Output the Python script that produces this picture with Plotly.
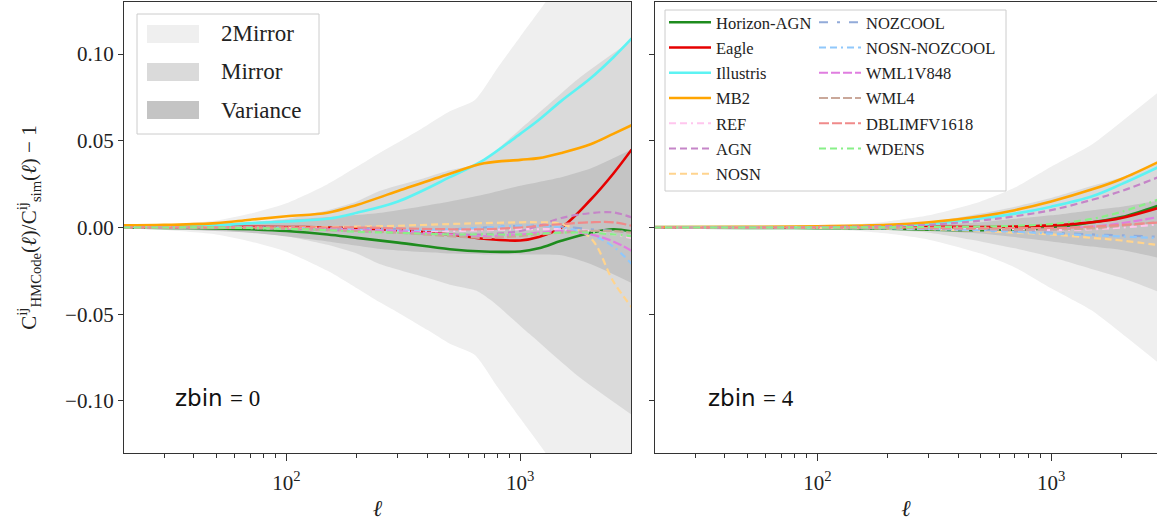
import plotly.graph_objects as go

# ---------------- data ----------------
# zbin = 0 panel
ell_band_0 = [20, 30, 50, 70, 100, 150, 200, 250, 300, 400, 500, 640, 800, 1000, 1300, 2000, 3000]
mirror2_hw_0 = [0.0005, 0.0015, 0.004, 0.008, 0.014, 0.025, 0.035, 0.043, 0.049, 0.059, 0.067, 0.0735, 0.092, 0.110, 0.131, 0.170, 0.210]
ell_mirror_0 = [20, 50, 70, 100, 150, 200, 250, 400, 500, 650, 750, 1100, 1800, 3000]
mirror_hw_0 = [0.0002, 0.0015, 0.003, 0.005, 0.010, 0.015, 0.021, 0.029, 0.033, 0.0365, 0.042, 0.0615, 0.0865, 0.108]
ell_var_0 = [20, 70, 150, 260, 500, 700, 1000, 1500, 2000, 3000]
var_up_0 = [0.0003, 0.003, 0.006, 0.0087, 0.015, 0.019, 0.024, 0.029, 0.034, 0.045]
var_lo_0 = [-0.0003, -0.003, -0.008, -0.0125, -0.015, -0.0155, -0.0155, -0.016, -0.021, -0.032]

ell_line_0 = [20, 30, 50, 70, 100, 150, 200, 300, 500, 700, 1000, 1200, 1500, 2000, 2500, 3000]
series_0 = {
    "Horizon-AGN": [0, -0.0002, -0.0005, -0.001, -0.002, -0.004, -0.006, -0.0087, -0.0125, -0.0138, -0.0138, -0.012, -0.0077, -0.003, -0.001, -0.0023],
    "Eagle": [0.0005, 0.0005, 0.0005, 0.0004, 0.0003, 0.0, -0.0005, -0.0015, -0.004, -0.0065, -0.0075, -0.0055, 0.0, 0.016, 0.031, 0.045],
    "Illustris": [0.0004, 0.0006, 0.0012, 0.0025, 0.0035, 0.005, 0.0085, 0.015, 0.029, 0.039, 0.054, 0.062, 0.073, 0.086, 0.098, 0.109],
    "MB2": [0.0012, 0.0015, 0.0025, 0.0045, 0.0065, 0.0085, 0.013, 0.021, 0.031, 0.037, 0.039, 0.040, 0.043, 0.048, 0.054, 0.059],
    "REF": [0, 0, 0, -0.0002, -0.0005, -0.001, -0.0015, -0.002, -0.002, -0.0015, -0.001, -0.001, -0.001, -0.002, -0.004, -0.006],
    "AGN": [0, 0, 0, -0.0003, -0.0007, -0.0015, -0.002, -0.003, -0.004, -0.004, -0.002, 0.001, 0.0055, 0.0083, 0.0087, 0.0058],
    "NOSN": [0, 0, 0, 0, 0, 0.0002, 0.0005, 0.001, 0.002, 0.0025, 0.003, 0.003, 0.002, -0.006, -0.031, -0.046],
    "NOZCOOL": [0, 0, 0, 0, -0.0002, -0.0005, -0.0005, -0.001, -0.001, 0.0, 0.001, 0.001, 0.0005, -0.001, -0.002, -0.003],
    "NOSN-NOZCOOL": [0, 0, 0, 0, -0.0002, -0.0005, -0.001, -0.0015, -0.001, 0.0, 0.001, 0.001, 0.0, -0.004, -0.011, -0.021],
    "WML1V848": [0, 0, 0, -0.0002, -0.0005, -0.001, -0.0015, -0.002, -0.004, -0.005, -0.004, -0.003, -0.002, -0.004, -0.008, -0.0135],
    "WML4": [0, 0, 0, -0.0003, -0.0007, -0.0015, -0.002, -0.003, -0.005, -0.006, -0.005, -0.004, -0.003, -0.002, -0.002, -0.003],
    "DBLIMFV1618": [0, 0, 0, 0, 0, 0, 0, -0.0005, -0.001, -0.001, 0.0, 0.001, 0.002, 0.003, 0.003, 0.001],
    "WDENS": [0, 0, 0, -0.0003, -0.0008, -0.0015, -0.0025, -0.003, -0.004, -0.004, -0.004, -0.0035, -0.003, -0.003, -0.004, -0.005],
}

# zbin = 4 panel
ell_band_4 = [20, 50, 100, 150, 200, 300, 500, 700, 1000, 1500, 2000, 3000]
mirror2_hw_4 = [0.0001, 0.0003, 0.001, 0.002, 0.0035, 0.007, 0.015, 0.023, 0.035, 0.048, 0.061, 0.080]
mirror_hw_4 = [0.0, 0.0001, 0.0005, 0.001, 0.0015, 0.003, 0.008, 0.012, 0.017, 0.024, 0.029, 0.038]
var_up_4 = [0.0, 0.0001, 0.0003, 0.0005, 0.0008, 0.0015, 0.003, 0.005, 0.007, 0.010, 0.012, 0.016]
var_lo_4 = [0.0, -0.0001, -0.0003, -0.0005, -0.0009, -0.0017, -0.0035, -0.0055, -0.008, -0.011, -0.013, -0.018]

ell_line_4 = [20, 50, 100, 200, 300, 500, 700, 1000, 1500, 2000, 3000]
series_4 = {
    "Horizon-AGN": [0, -0.0002, -0.0004, -0.0007, -0.0012, -0.0015, -0.0012, -0.0002, 0.003, 0.006, 0.0135],
    "Eagle": [0, 0, 0.0001, 0.0003, 0.0004, 0.0003, 0.0005, 0.0012, 0.003, 0.0055, 0.012],
    "Illustris": [0.0002, 0.0002, 0.0004, 0.001, 0.002, 0.0052, 0.008, 0.012, 0.018, 0.025, 0.036],
    "MB2": [0.0003, 0.0004, 0.0007, 0.0015, 0.003, 0.0065, 0.010, 0.015, 0.022, 0.028, 0.039],
    "REF": [0, 0, 0, -0.0002, -0.0004, -0.0008, -0.001, -0.0015, -0.001, 0.0, 0.002],
    "AGN": [0, 0, 0.0003, 0.0008, 0.0015, 0.004, 0.0065, 0.010, 0.016, 0.021, 0.030],
    "NOSN": [0, 0, -0.0002, -0.0006, -0.001, -0.002, -0.003, -0.004, -0.006, -0.0075, -0.0105],
    "NOZCOOL": [0, 0, -0.0001, -0.0004, -0.0008, -0.0015, -0.0022, -0.003, -0.004, -0.0045, -0.0055],
    "NOSN-NOZCOOL": [0, 0, -0.0002, -0.0005, -0.0009, -0.0016, -0.0025, -0.0035, -0.0045, -0.0052, -0.0062],
    "WML1V848": [0, 0, 0, -0.0002, -0.0004, -0.0008, -0.0012, -0.001, 0.0005, 0.0025, 0.0065],
    "WML4": [0, 0, 0, -0.0002, -0.0004, -0.0008, -0.0012, -0.0012, -0.0005, 0.001, 0.0035],
    "DBLIMFV1618": [0, 0, 0, 0, 0, -0.0002, -0.0003, -0.0003, 0.0005, 0.0015, 0.003],
    "WDENS": [0, 0, 0, 0.0001, 0.0003, 0.0005, 0.001, 0.002, 0.005, 0.009, 0.017],
}

band_names = ["2Mirror", "Mirror", "Variance"]
y_tick_vals = [-0.10, -0.05, 0.0, 0.05, 0.10]
y_tick_text = ["\u22120.10", "\u22120.05", "0.00", "0.05", "0.10"]
x_tick_vals = [100, 1000]
x_tick_text = ["10<sup>2</sup>", "10<sup>3</sup>"]
x_minor_vals = [20, 30, 40, 50, 60, 70, 80, 90, 200, 300, 400, 500, 600, 700, 800, 900, 2000, 3000]

# ---------------- styles ----------------
styles = {
    "Horizon-AGN": dict(color="#1e8c1e", width=2.6, dash="solid"),
    "Eagle": dict(color="#e60000", width=2.6, dash="solid"),
    "Illustris": dict(color="#5df3f3", width=2.6, dash="solid"),
    "MB2": dict(color="#ffa500", width=2.6, dash="solid"),
    "REF": dict(color="#ffc6ee", width=2.2, dash="7px,4px,7px,4px,2px,4px"),
    "AGN": dict(color="#c585c8", width=2.2, dash="7px,4px"),
    "NOSN": dict(color="#ffd48e", width=2.2, dash="7px,4px"),
    "NOZCOOL": dict(color="#92abd9", width=2.2, dash="9px,9px,3px,9px"),
    "NOSN-NOZCOOL": dict(color="#90c8fb", width=2.2, dash="7px,4px,7px,4px,2px,4px"),
    "WML1V848": dict(color="#e07ee0", width=2.2, dash="9px,3px"),
    "WML4": dict(color="#caa89a", width=2.2, dash="9px,3px"),
    "DBLIMFV1618": dict(color="#f08a8a", width=2.2, dash="10px,3px"),
    "WDENS": dict(color="#88f088", width=2.2, dash="7px,4px,7px,4px,2px,4px"),
}
band_colors = {"2Mirror": "#efefef", "Mirror": "#dadada", "Variance": "#c4c4c4"}

SERIF = "Liberation Serif, DejaVu Serif, serif"
SANS = "DejaVu Sans, sans-serif"
TXT = "#222222"

fig = go.Figure()


def add_band(ell, lo, up, color, xa, ya):
    fig.add_trace(go.Scatter(x=ell, y=lo, mode="lines", line=dict(width=0, shape="spline", smoothing=0.6),
                             showlegend=False, hoverinfo="skip", xaxis=xa, yaxis=ya))
    fig.add_trace(go.Scatter(x=ell, y=up, mode="lines", line=dict(width=0, shape="spline", smoothing=0.6),
                             fill="tonexty", fillcolor=color, showlegend=False, hoverinfo="skip",
                             xaxis=xa, yaxis=ya))


# bands zbin 0
add_band(ell_band_0, [-v for v in mirror2_hw_0], mirror2_hw_0, band_colors["2Mirror"], "x", "y")
add_band(ell_mirror_0, [-v for v in mirror_hw_0], mirror_hw_0, band_colors["Mirror"], "x", "y")
add_band(ell_var_0, var_lo_0, var_up_0, band_colors["Variance"], "x", "y")
# bands zbin 4
add_band(ell_band_4, [-v for v in mirror2_hw_4], mirror2_hw_4, band_colors["2Mirror"], "x2", "y2")
add_band(ell_band_4, [-v for v in mirror_hw_4], mirror_hw_4, band_colors["Mirror"], "x2", "y2")
add_band(ell_band_4, var_lo_4, var_up_4, band_colors["Variance"], "x2", "y2")

names = list(series_0.keys())
for i, name in enumerate(names):
    st = styles[name]
    leg = "legend2" if i < 7 else "legend3"
    fig.add_trace(go.Scatter(x=ell_line_0, y=series_0[name], mode="lines", name=name,
                             line=dict(color=st["color"], width=st["width"], dash=st["dash"], shape="spline"),
                             legend=leg, legendgroup=name, xaxis="x", yaxis="y"))
    fig.add_trace(go.Scatter(x=ell_line_4, y=series_4[name], mode="lines", name=name,
                             line=dict(color=st["color"], width=st["width"], dash=st["dash"], shape="spline"),
                             legendgroup=name, showlegend=False, xaxis="x2", yaxis="y2"))

# ---------------- layout ----------------
W, H = 1157, 522
ML, MR, MT, MB = 124, 0, 2, 69
PW, PH = W - ML - MR, H - MT - MB


def px(x):
    return (x - ML) / PW


def py(y):
    return (H - MB - y) / PH


axis_common = dict(showline=True, linecolor="#333333", linewidth=1.2, showgrid=False, zeroline=False,
                   automargin=False, ticks="outside", tickcolor="#333333",
                   tickfont=dict(family=SERIF, size=21, color=TXT))

xtitle = dict(text="<i>ℓ</i>", font=dict(family=SERIF, size=23, color=TXT), standoff=5)

fig.update_layout(
    width=W, height=H, margin=dict(l=ML, r=MR, t=MT, b=MB, autoexpand=False),
    paper_bgcolor="white", plot_bgcolor="white",
    font=dict(family=SERIF, size=16, color=TXT),
    xaxis=dict(type="log", domain=[0, px(631)], range=[1.305, 3.474], mirror=True,
               tickvals=x_tick_vals, ticktext=x_tick_text, ticklen=7, ticklabelstandoff=4,
               minor=dict(ticks="outside", ticklen=4, tickvals=x_minor_vals, tickcolor="#333333"),
               title=xtitle, anchor="y", **axis_common),
    xaxis2=dict(type="log", domain=[px(655), 1.0], range=[1.305, 3.453], mirror=True,
                tickvals=x_tick_vals, ticktext=x_tick_text, ticklen=7, ticklabelstandoff=4,
                minor=dict(ticks="outside", ticklen=4, tickvals=x_minor_vals, tickcolor="#333333"),
                title=xtitle, anchor="y2", **axis_common),
    yaxis=dict(range=[-0.13, 0.13], tickvals=y_tick_vals, ticktext=y_tick_text, ticklen=5, mirror=True,
               title=dict(text="C<sup>ij</sup><sub>HMCode</sub>(<i>ℓ</i>)/C<sup>ij</sup><sub>sim</sub>(<i>ℓ</i>) \u2212 1",
                          font=dict(family=SERIF, size=21, color=TXT), standoff=22),
               anchor="x", **axis_common),
    yaxis2=dict(range=[-0.13, 0.13], tickvals=y_tick_vals, ticktext=y_tick_text, ticklen=5, mirror=False,
                showticklabels=False, anchor="x2", **axis_common),
    legend2=dict(x=px(664), y=py(5), xanchor="left", yanchor="top", bgcolor="rgba(0,0,0,0)",
                 borderwidth=0, font=dict(family=SERIF, size=16.5, color=TXT), itemwidth=42,
                 tracegroupgap=0.8),
    legend3=dict(x=px(814), y=py(5), xanchor="left", yanchor="top", bgcolor="rgba(0,0,0,0)",
                 borderwidth=0, font=dict(family=SERIF, size=16.5, color=TXT), itemwidth=42,
                 tracegroupgap=0.8),
    showlegend=True,
)

shapes = []
# right legend frame
shapes.append(dict(type="rect", xref="paper", yref="paper", x0=px(665), x1=px(1006), y0=py(191), y1=py(10),
                   line=dict(color="#cccccc", width=1), fillcolor="rgba(255,255,255,0.85)", layer="above"))
# left legend (bands): frame and swatches
shapes.append(dict(type="rect", xref="paper", yref="paper", x0=px(137), x1=px(319), y0=py(134), y1=py(14),
                   line=dict(color="#cccccc", width=1), fillcolor="rgba(255,255,255,0.85)", layer="above"))
annotations = []
row_y = [34, 72, 110]
for name, yc in zip(band_names, row_y):
    shapes.append(dict(type="rect", xref="paper", yref="paper", x0=px(147), x1=px(199),
                       y0=py(yc + 9), y1=py(yc - 9), line=dict(width=0),
                       fillcolor=band_colors[name], layer="above"))
    annotations.append(dict(xref="paper", yref="paper", x=px(219), y=py(yc), text=name, showarrow=False,
                            xanchor="left", yanchor="middle", font=dict(family=SERIF, size=23, color=TXT)))

annotations.append(dict(xref="x domain", yref="y domain", x=0.097, y=0.122,
                        text="zbin <span style='font-family:Liberation Serif'>= 0</span>",
                        showarrow=False, xanchor="left", yanchor="middle",
                        font=dict(family=SANS, size=23, color="#111111")))
annotations.append(dict(xref="x2 domain", yref="y2 domain", x=0.102, y=0.122,
                        text="zbin <span style='font-family:Liberation Serif'>= 4</span>",
                        showarrow=False, xanchor="left", yanchor="middle",
                        font=dict(family=SANS, size=23, color="#111111")))

fig.update_layout(shapes=shapes, annotations=annotations)

fig.write_html("out.html", config={"displayModeBar": False},
               post_script="document.body.style.margin='0';document.body.style.overflow='hidden';")
